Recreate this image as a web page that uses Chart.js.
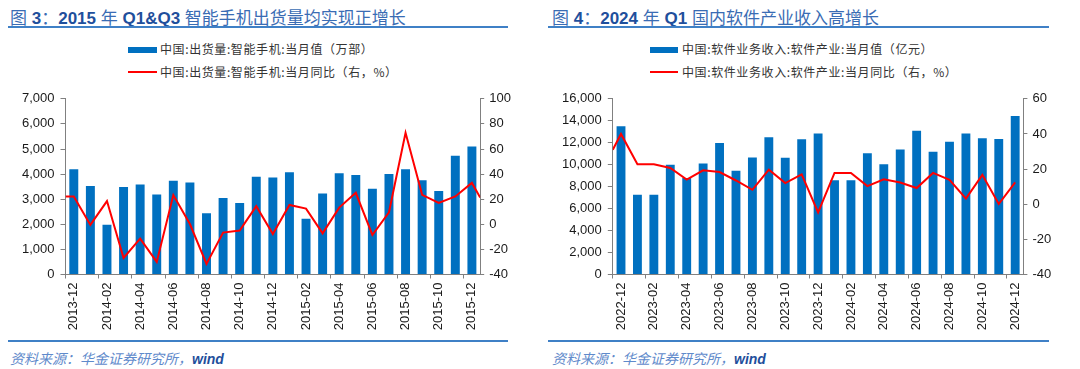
<!DOCTYPE html>
<html>
<head>
<meta charset="utf-8">
<script src="https://cdn.jsdelivr.net/npm/chart.js@4/dist/chart.umd.min.js"></script>
<style>
  body { margin: 0; background: #fff; width: 1080px; height: 369px; overflow: hidden; position: relative; font-family: "Liberation Sans", "Noto Sans CJK SC", sans-serif; }
  .panel { position: absolute; top: 0; width: 540px; height: 369px; }
  .title { position: absolute; top: 4px; font-size: 17px; color: #3a6cb4; white-space: nowrap; font-family: "Liberation Sans", "Noto Sans CJK SC", sans-serif; }
  .title b { color: #1f4f9c; font-weight: bold; }
  .rule { position: absolute; height: 2px; background: #3f80c6; }
  .leg { position: absolute; font-size: 12px; color: #333; white-space: nowrap; font-family: "Noto Sans CJK SC", sans-serif; letter-spacing: 0.6px; line-height: 14px; }
  .sw { position: absolute; }
  .src { position: absolute; top: 348px; font-size: 14px; font-style: italic; color: #5f8acb; white-space: nowrap; font-family: "Noto Sans CJK SC", sans-serif; }
  .src b { color: #1f4f9c; font-family: "Liberation Sans", sans-serif; }
  canvas { position: absolute; top: 85px; }
</style>
</head>
<body>

<div class="panel" style="left:0">
  <div class="title" style="left:10px">图 <b>3</b>：<b>2015</b> 年 <b>Q1&amp;Q3</b> 智能手机出货量均实现正增长</div>
  <div class="rule" style="left:8px; width:500px; top:26px"></div>
  <div class="sw" style="left:128px; top:47px; width:29px; height:6px; background:#0070c0"></div>
  <div class="leg" style="left:160px; top:42px">中国:出货量:智能手机:当月值（万部）</div>
  <div class="sw" style="left:128px; top:71px; width:29px; height:2px; background:#ff0000"></div>
  <div class="leg" style="left:160px; top:65px">中国:出货量:智能手机:当月同比（右，%）</div>
  <canvas id="c1" width="540" height="255" style="left:0; width:540px; height:255px"></canvas>
  <div class="rule" style="left:8px; width:500px; top:340px"></div>
  <div class="src" style="left:10px">资料来源：华金证券研究所，<b>wind</b></div>
</div>

<div class="panel" style="left:540px">
  <div class="title" style="left:12px">图 <b>4</b>：<b>2024</b> 年 <b>Q1</b> 国内软件产业收入高增长</div>
  <div class="rule" style="left:8px; width:501px; top:26px"></div>
  <div class="sw" style="left:110px; top:47px; width:28px; height:6px; background:#0070c0"></div>
  <div class="leg" style="left:142px; top:42px">中国:软件业务收入:软件产业:当月值（亿元）</div>
  <div class="sw" style="left:110px; top:71px; width:28px; height:2px; background:#ff0000"></div>
  <div class="leg" style="left:142px; top:65px">中国:软件业务收入:软件产业:当月同比（右，%）</div>
  <canvas id="c2" width="540" height="255" style="left:0; width:540px; height:255px"></canvas>
  <div class="rule" style="left:8px; width:501px; top:340px"></div>
  <div class="src" style="left:12px">资料来源：华金证券研究所，<b>wind</b></div>
</div>

<script>
// Fig 3: smartphone shipments
var phoneMonths = ['2013-12','2014-01','2014-02','2014-03','2014-04','2014-05','2014-06','2014-07','2014-08','2014-09','2014-10','2014-11','2014-12',
                   '2015-01','2015-02','2015-03','2015-04','2015-05','2015-06','2015-07','2015-08','2015-09','2015-10','2015-11','2015-12'];
var phoneShip = [4190,3530,1985,3490,3585,3190,3740,3665,2440,3050,2850,3890,3860,4070,2220,3230,4030,3965,3415,4005,4190,3755,3325,4730,5095];
var phoneYoY = [22.2,-0.5,18.5,-26.8,-11.4,-30,23.3,0.2,-31.6,-6.6,-5,14.4,-7.7,15.4,12.5,-7.2,13.3,25.1,-8.5,9.6,72.9,23.5,17,22.2,33];
// line runs on to the plot edges: [left edge, right edge]
var phoneYoYEdges = [22.2, 21.3];
var phoneLeftTicks = [0, 7000, 1000];
var phoneRightTicks = [-40, 100, 20];

// Fig 4: software revenue
var softMonths = ['2022-12','2023-01','2023-02','2023-03','2023-04','2023-05','2023-06','2023-07','2023-08','2023-09','2023-10','2023-11','2023-12',
                  '2024-01','2024-02','2024-03','2024-04','2024-05','2024-06','2024-07','2024-08','2024-09','2024-10','2024-11','2024-12'];
var softRev = [13510,7265,7265,9995,8795,10115,11980,9455,10660,12490,10630,12310,12850,8585,8585,11050,10030,11380,13090,11170,12100,12850,12400,12340,14440];
var softYoY = [40,22.8,22.8,20.6,14,19.3,18.3,13.5,8.2,19.7,12,17,-4.7,17.8,17.8,10.3,14.2,12.4,9.2,17.8,13.9,3.2,16.7,0.1,12.4];
var softYoYEdges = [31, null];
var softLeftTicks = [0, 16000, 2000];
var softRightTicks = [-40, 60, 20];

var axisColor = '#808080';
var tickFont = { family: 'Liberation Sans', size: 13 };
var textColor = '#1a1a1a';

function buildChart(id, labels, bars, yoy, edges, leftTicks, rightTicks, leftW, padRight) {
    // line points sit on bar centres, on a hidden linear axis
    var pts = yoy.map(function (v, i) { return { x: i, y: v }; });
    if (edges[0] != null) pts.unshift({ x: -0.5, y: edges[0] });
    if (edges[1] != null) pts.push({ x: labels.length - 0.5, y: edges[1] });

    var ctx = document.getElementById(id).getContext('2d');
    return new Chart(ctx, {
        type: 'bar',
        data: {
            labels: labels,
            datasets: [{
                type: 'line',
                data: pts,
                xAxisID: 'xl',
                yAxisID: 'y1',
                borderColor: '#ff0000',
                borderWidth: 2,
                pointRadius: 0,
                tension: 0,
                order: 0
            }, {
                type: 'bar',
                data: bars,
                xAxisID: 'x',
                yAxisID: 'y',
                backgroundColor: '#0070c0',
                grouped: false,
                barPercentage: 0.54,
                categoryPercentage: 1,
                order: 1
            }]
        },
        options: {
            responsive: false,
            animation: false,
            devicePixelRatio: 1,
            layout: { padding: { top: 12.5, right: padRight, bottom: 0, left: 0 } },
            plugins: { legend: { display: false }, tooltip: { enabled: false } },
            scales: {
                x: {
                    type: 'category',
                    offset: true,
                    grid: {
                        offset: true,
                        drawOnChartArea: false,
                        tickLength: 4,
                        color: function (c) { return c.index % 2 === 0 ? axisColor : 'rgba(0,0,0,0)'; }
                    },
                    border: { color: axisColor },
                    ticks: {
                        autoSkip: false,
                        minRotation: 90,
                        maxRotation: 90,
                        padding: 4,
                        font: tickFont,
                        color: textColor,
                        callback: function (v, i) { return i % 2 === 0 ? this.getLabelForValue(v) : ''; }
                    },
                    afterFit: function (s) { s.height = 65.5; }
                },
                xl: { type: 'linear', display: false, offset: false, min: -0.5, max: labels.length - 0.5 },
                y: {
                    position: 'left',
                    min: leftTicks[0], max: leftTicks[1],
                    grid: { drawOnChartArea: false, tickLength: 5, color: axisColor },
                    border: { color: axisColor },
                    ticks: {
                        stepSize: leftTicks[2],
                        padding: 6,
                        font: tickFont,
                        color: textColor,
                        callback: function (v) { return v.toLocaleString('en-US'); }
                    },
                    afterFit: function (s) { s.width = leftW; }
                },
                y1: {
                    position: 'right',
                    min: rightTicks[0], max: rightTicks[1],
                    grid: { drawOnChartArea: false, tickLength: 4, color: axisColor },
                    border: { color: axisColor },
                    ticks: { stepSize: rightTicks[2], padding: 5, font: tickFont, color: textColor },
                    afterFit: function (s) { s.width = 40; }
                }
            }
        }
    });
}

buildChart('c1', phoneMonths, phoneShip, phoneYoY, phoneYoYEdges, phoneLeftTicks, phoneRightTicks, 65.5, 540 - 480.2 - 40);
buildChart('c2', softMonths, softRev, softYoY, softYoYEdges, softLeftTicks, softRightTicks, 72.8, 540 - 483.4 - 40);
</script>
</body>
</html>
